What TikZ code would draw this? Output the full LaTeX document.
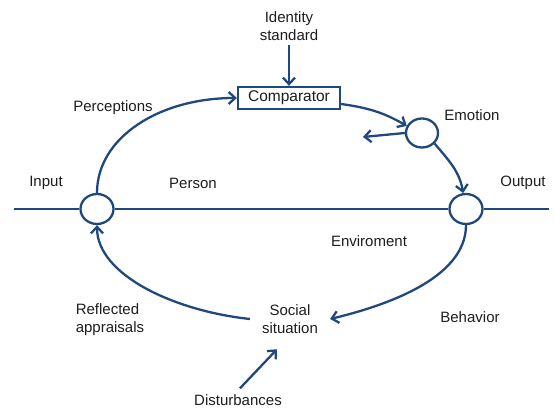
\documentclass[tikz,border=0pt]{standalone}
\usepackage{fontspec}
\setmainfont{Liberation Sans}
\usetikzlibrary{arrows.meta,shapes.geometric}
\definecolor{mainblue}{RGB}{31,73,125}
\definecolor{txt}{RGB}{30,30,30}
\begin{document}
\begin{tikzpicture}[x=1pt,y=1pt,
  line/.style={draw=mainblue,line width=2.3pt},
  arr/.style={line,-{Straight Barb[length=6.5pt,width=12pt]}},
  junction/.style={ellipse,draw=mainblue,line width=2.3pt,fill=white,minimum width=33pt,minimum height=30pt,inner sep=0pt},
  lbl/.style={text=txt,font=\fontsize{15}{18}\selectfont,align=center,inner sep=0pt},
  compbox/.style={draw=mainblue,line width=2.3pt,minimum width=102pt,minimum height=22pt,inner sep=0pt,text=txt,font=\fontsize{15.5}{18}\selectfont}]
\useasboundingbox (0,0) rectangle (555,412);
\fill[white] (0,0) rectangle (555,412);
% junctions
\node[junction] (L) at (97,203) {};
\node[junction] (R) at (466,203) {};
\node[junction,minimum width=32pt,minimum height=29pt] (E) at (422,279) {};
\node[compbox] (C) at (289,314) {Comparator};
\coordinate (inL) at (14,203);
\coordinate (outR) at (549,203);
% texts
\node[lbl] (ID) at (289,386) {Identity\\standard};
\node[lbl] (perc) at (113,304) {Perceptions};
\node[lbl] (emo) at (472,297) {Emotion};
\node[lbl] (inp) at (46,229) {Input};
\node[lbl] (pers) at (193,229) {Person};
\node[lbl] (outp) at (523,229) {Output};
\node[lbl] (env) at (369,171) {Enviroment};
\node[lbl,align=left] (refl) at (110,92) {Reflected\\appraisals};
\node[lbl] (beh) at (470,95) {Behavior};
\node[lbl,inner xsep=12pt] (S) at (290,93) {Social\\situation};
\node[lbl] (dist) at (238,12) {Disturbances};
\coordinate (Emo) at (363,275);
% lines
\draw[line] (inL) -- (L.west);
\draw[line] (L.east) -- (R.west);
\draw[line] (R.east) -- (outR);
\draw[arr] (ID.south) ++(0,-4) -- (C.north);
\draw[arr] (L.north) .. controls +(0,55) and +(-78,0) .. (C.west);
\draw[arr] ([yshift=-6pt]C.east) to[out=-8,in=150] (E.155);
\draw[arr] (E.-40) to[out=-50,in=100] (R.100);
\draw[arr] (E.west) -- (Emo);
\draw[arr] (R.south) .. controls +(0,-55) and +(50,12) .. (S.east);
\draw[arr] (S.west) .. controls +(-75,8) and +(0,-50) .. (L.south);
\draw[arr] (dist.north) ++(2,6) -- +(37,39);
\end{tikzpicture}
\end{document}
